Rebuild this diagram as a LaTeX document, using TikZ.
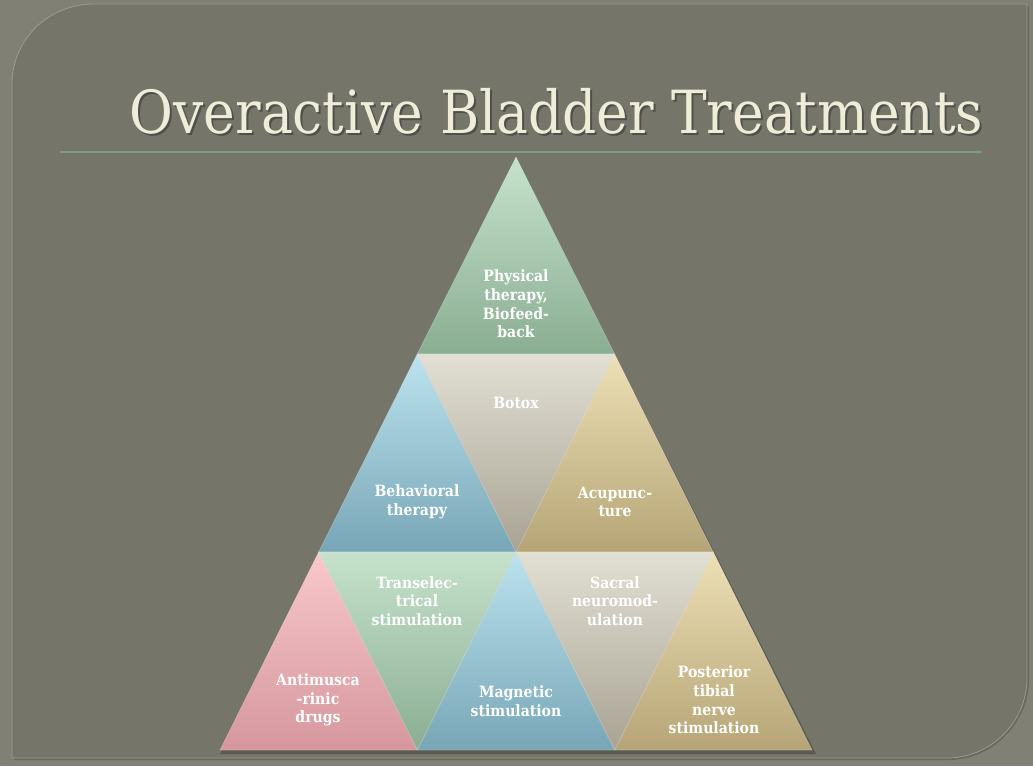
\documentclass[tikz,border=0pt]{standalone}
\usepackage{fontspec}
\newfontfamily\titlefont{DejaVu Serif Condensed}
\newfontfamily\labfont{DejaVu Serif Condensed}[BoldFont={DejaVu Serif Condensed Bold}]
\definecolor{outerbg}{HTML}{808074}
\definecolor{panel}{HTML}{75756A}
\definecolor{paneledge}{HTML}{9C9C8E}
\definecolor{titlecol}{HTML}{EFECD8}
\definecolor{rulecol}{HTML}{7F9A80}
\definecolor{gTop}{HTML}{C6E2CC}\definecolor{gBot}{HTML}{8AAE92}
\definecolor{bTop}{HTML}{BCE3EF}\definecolor{bBot}{HTML}{78A6B6}
\definecolor{yTop}{HTML}{EEE0B6}\definecolor{yBot}{HTML}{B5A576}
\definecolor{sTop}{HTML}{E2DFD4}\definecolor{sBot}{HTML}{A8A393}
\definecolor{pTop}{HTML}{F9C8CA}\definecolor{pBot}{HTML}{D5979D}
\tikzset{
  tri/.style={draw=white, draw opacity=0.25, line width=0.6pt},
  greentri/.style={tri, top color=gTop, bottom color=gBot},
  bluetri/.style={tri, top color=bTop, bottom color=bBot},
  goldtri/.style={tri, top color=yTop, bottom color=yBot},
  stonetri/.style={tri, top color=sTop, bottom color=sBot},
  pinktri/.style={tri, top color=pTop, bottom color=pBot},
  lab/.style={text=white, align=center, inner sep=0pt, font=\labfont\bfseries\fontsize{15.6}{18.6}\selectfont},
}
\begin{document}
\begin{tikzpicture}[x=1pt,y=-1pt]
\useasboundingbox (0,0) rectangle (1033,766);
\fill[outerbg] (0,0) rectangle (1033,766);
% panel with two rounded corners
\fill[black, opacity=0.18] (14,760) -- (14,86) .. controls (14,44) and (48,6) .. (96,6) -- (1029,6) -- (1029,680) .. controls (1029,722) and (993,760) .. (949,760) -- cycle;
\filldraw[fill=panel, draw=paneledge, line width=0.8pt] (12,758) -- (12,84) .. controls (12,40) and (48,4) .. (94,4) -- (1027,4) -- (1027,678) .. controls (1027,722) and (991,758) .. (947,758) -- cycle;
% title
\node[text=black!75, opacity=0.7, anchor=base] (titleshadow) at (558.5,135.5) {\resizebox{853pt}{!}{\titlefont Overactive Bladder Treatments}};
\node[text=titlecol, anchor=base] (title) at (556.5,133) {\resizebox{853pt}{!}{\titlefont Overactive Bladder Treatments}};
\coordinate (ruleL) at (60,152);
\coordinate (ruleR) at (982,152);
\draw[rulecol, line width=1.6pt] (ruleL) -- (ruleR);
% pyramid vertices
\coordinate (A) at (516,157);
\coordinate (B1) at (417.3,354); \coordinate (B2) at (614.7,354);
\coordinate (C1) at (318.7,552); \coordinate (C2) at (516,552); \coordinate (C3) at (713.3,552);
\coordinate (D1) at (220,750); \coordinate (D2) at (417.3,750); \coordinate (D3) at (614.7,750); \coordinate (D4) at (812,750);
% shadow
\fill[black, opacity=0.22] ([shift={(2,4)}]A) -- ([shift={(4,4)}]D4) -- ([shift={(0,4)}]D1) -- cycle;
% row 1
\path[greentri] (A) -- (B2) -- (B1) -- cycle;
% row 2
\path[bluetri] (B1) -- (C2) -- (C1) -- cycle;
\path[goldtri] (B2) -- (C3) -- (C2) -- cycle;
\path[stonetri] (B1) -- (B2) -- (C2) -- cycle;
% row 3
\path[pinktri] (C1) -- (D2) -- (D1) -- cycle;
\path[bluetri] (C2) -- (D3) -- (D2) -- cycle;
\path[goldtri] (C3) -- (D4) -- (D3) -- cycle;
\path[greentri] (C1) -- (C2) -- (D2) -- cycle;
\path[stonetri] (C2) -- (C3) -- (D3) -- cycle;
% labels
\node[lab] (physical) at (516,304) {Physical\\therapy,\\Biofeed-\\back};
\node[lab] (botox) at (516,403) {Botox};
\node[lab] (behav) at (417,502) {Behavioral\\therapy};
\node[lab] (acup) at (615,502) {Acupunc-\\ture};
\node[lab] (transel) at (417,601) {Transelec-\\trical\\stimulation};
\node[lab] (sacral) at (615,601) {Sacral\\neuromod-\\ulation};
\node[lab] (antim) at (318,700) {Antimusca\\-rinic\\drugs};
\node[lab] (magnet) at (516,701) {Magnetic\\stimulation};
\node[lab] (ptns) at (714,700) {Posterior\\tibial\\nerve\\stimulation};
\end{tikzpicture}
\end{document}
